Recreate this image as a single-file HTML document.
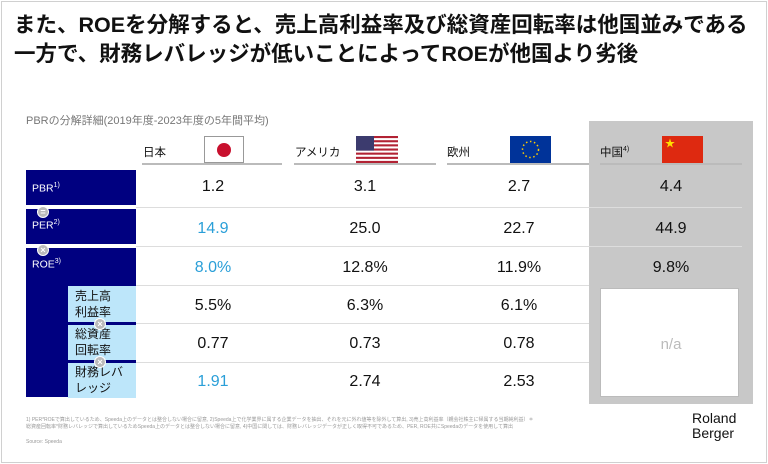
<!DOCTYPE html>
<html><head><meta charset="utf-8"><style>
body{margin:0;width:768px;height:464px;overflow:hidden;background:#fff;font-family:"Liberation Sans","Noto Sans CJK JP",sans-serif;position:relative}
.a{position:absolute}
.frame{left:1px;top:1px;width:764px;height:460px;border:1px solid #d0d0d0}
.title{left:14px;top:11px;font-size:21.5px;font-weight:bold;line-height:29px;color:#111;white-space:nowrap}
.sub{left:26px;top:112px;font-size:11px;color:#777}
.hd{font-size:11.5px;color:#111}
.ul{height:2px;background:#bbb}
.navy{background:#000080;color:#fff;font-size:10.5px}
.lb{background:#bde6fa;color:#111;font-size:12px;line-height:16px;padding-left:7px;box-sizing:border-box}
.v{width:120px;text-align:center;font-size:16px;color:#111}
.b{color:#2a9fd8}
.sep{height:1px;background:#ddd;left:136px;width:606px}
.circ{width:10px;height:10px;border-radius:50%;background:#bbb;color:#fff;font-size:9px;line-height:10px;text-align:center;font-weight:bold;border:1px solid #fff}
</style></head><body>
<div class="a frame"></div>
<div class="a title">また、ROEを分解すると、売上高利益率及び総資産回転率は他国並みである<br>一方で、財務レバレッジが低いことによってROEが他国より劣後</div>
<div class="a sub">PBRの分解詳細(2019年度-2023年度の5年間平均)</div>

<div class="a" style="left:589px;top:121px;width:164px;height:283px;background:#c8c8c8"></div>
<div class="a" style="left:600px;top:288px;width:139px;height:109px;background:#fff;border:1px solid #bbb;box-sizing:border-box"></div>
<div class="a" style="left:611px;top:336px;width:120px;text-align:center;font-size:15px;color:#bbb">n/a</div>

<div class="a hd" style="left:143px;top:144px">日本</div>
<div class="a" style="left:204px;top:136px;width:40px;height:27px;background:#fff;border:1px solid #999;box-sizing:border-box"><div class="a" style="left:12px;top:6px;width:14px;height:14px;border-radius:50%;background:#c8102e"></div></div>
<div class="a ul" style="left:142px;top:163px;width:140px"></div>
<div class="a hd" style="left:295px;top:144px">アメリカ</div>
<svg class="a" style="left:356px;top:136px" width="42" height="27">
<rect width="42" height="27" fill="#fff"/><g fill="#b22234"><rect y="0" width="42" height="2.1"/><rect y="4.2" width="42" height="2.1"/><rect y="8.3" width="42" height="2.1"/><rect y="12.5" width="42" height="2.1"/><rect y="16.6" width="42" height="2.1"/><rect y="20.8" width="42" height="2.1"/><rect y="24.9" width="42" height="2.1"/></g><rect width="18" height="14.6" fill="#3c3b6e"/></svg>
<div class="a ul" style="left:294px;top:163px;width:142px"></div>
<div class="a hd" style="left:447px;top:144px">欧州</div>
<svg class="a" style="left:510px;top:136px" width="41" height="27"><rect width="41" height="27" fill="#003399"/><circle cx="20.5" cy="13.5" r="8" fill="none" stroke="#fc0" stroke-width="1.5" stroke-dasharray="1.5 2.6"/></svg>
<div class="a ul" style="left:447px;top:163px;width:142px"></div>
<div class="a hd" style="left:600px;top:144px">中国<sup style="font-size:7px">4)</sup></div>
<svg class="a" style="left:662px;top:136px" width="41" height="27"><rect width="41" height="27" fill="#de2910"/><text x="3" y="11" font-size="10" fill="#ffde00">★</text></svg>
<div class="a ul" style="left:600px;top:163px;width:142px"></div>

<div class="a navy" style="left:26px;top:170px;width:110px;height:35px;padding:12px 0 0 6px;box-sizing:border-box">PBR<sup style="font-size:7px">1)</sup></div>
<div class="a navy" style="left:26px;top:209px;width:110px;height:35px;padding:10px 0 0 6px;box-sizing:border-box">PER<sup style="font-size:7px">2)</sup></div>
<div class="a navy" style="left:26px;top:248px;width:110px;height:149px;padding:10px 0 0 6px;box-sizing:border-box">ROE<sup style="font-size:7px">3)</sup></div>
<div class="a lb" style="left:68px;top:286px;width:68px;height:36px;padding-top:2px">売上高<br>利益率</div>
<div class="a lb" style="left:68px;top:325px;width:68px;height:35px;padding-top:1px">総資産<br>回転率</div>
<div class="a lb" style="left:68px;top:363px;width:68px;height:35px;padding-top:1px">財務レバ<br>レッジ</div>
<div class="a circ" style="left:37px;top:206px">=</div>
<div class="a circ" style="left:37px;top:244px">×</div>
<div class="a circ" style="left:94px;top:318px">×</div>
<div class="a circ" style="left:94px;top:356px">×</div>

<div class="a sep" style="top:207px"></div>
<div class="a sep" style="top:246px"></div>
<div class="a sep" style="top:285px;width:453px"></div>
<div class="a sep" style="top:323px;width:453px"></div>
<div class="a sep" style="top:362px;width:453px"></div>

<div class="a v" style="left:153px;top:178px">1.2</div>
<div class="a v" style="left:305px;top:178px">3.1</div>
<div class="a v" style="left:459px;top:178px">2.7</div>
<div class="a v" style="left:611px;top:178px">4.4</div>
<div class="a v b" style="left:153px;top:220px">14.9</div>
<div class="a v" style="left:305px;top:220px">25.0</div>
<div class="a v" style="left:459px;top:220px">22.7</div>
<div class="a v" style="left:611px;top:220px">44.9</div>
<div class="a v b" style="left:153px;top:259px">8.0%</div>
<div class="a v" style="left:305px;top:259px">12.8%</div>
<div class="a v" style="left:459px;top:259px">11.9%</div>
<div class="a v" style="left:611px;top:259px">9.8%</div>
<div class="a v" style="left:153px;top:297px">5.5%</div>
<div class="a v" style="left:305px;top:297px">6.3%</div>
<div class="a v" style="left:459px;top:297px">6.1%</div>
<div class="a v" style="left:153px;top:335px">0.77</div>
<div class="a v" style="left:305px;top:335px">0.73</div>
<div class="a v" style="left:459px;top:335px">0.78</div>
<div class="a v b" style="left:153px;top:373px">1.91</div>
<div class="a v" style="left:305px;top:373px">2.74</div>
<div class="a v" style="left:459px;top:373px">2.53</div>

<div class="a" style="left:26px;top:417px;font-size:5px;line-height:7px;color:#999;white-space:nowrap">1) PER*ROEで算出しているため、Speeda上のデータとは整合しない場合に留意, 2)Speeda上で化学業界に属する企業データを抽出、それを元に外れ値等を除外して算出, 3)売上高利益率（親会社株主に帰属する当期純利益）＊<br>総資産回転率*財務レバレッジで算出しているためSpeeda上のデータとは整合しない場合に留意, 4)中国に関しては、財務レバレッジデータが正しく取得不可であるため、PER, ROE共にSpeedaのデータを使用して算出</div>
<div class="a" style="left:26px;top:439px;font-size:5px;color:#999">Source: Speeda</div>
<div class="a" style="left:692px;top:411px;font-size:14px;line-height:15px;color:#111">Roland<br>Berger</div>
</body></html>
